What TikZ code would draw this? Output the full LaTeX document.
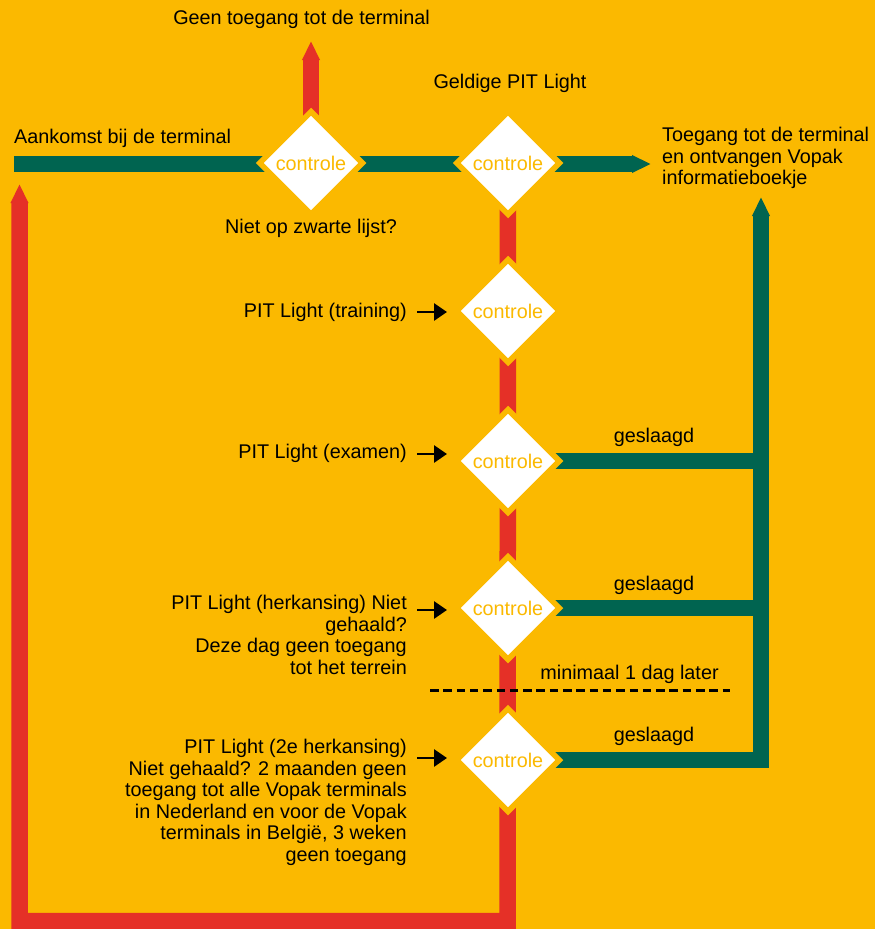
\documentclass[tikz,border=0pt]{standalone}
\usepackage{fontspec}
\setmainfont{Liberation Sans}
\usetikzlibrary{shapes.geometric,arrows.meta,backgrounds}
\definecolor{bgc}{RGB}{251,185,0}
\definecolor{redc}{RGB}{229,48,39}
\definecolor{greenc}{RGB}{0,100,80}
\begin{document}
\begin{tikzpicture}[x=1pt,y=-1pt,
  txt/.style={inner sep=0pt, text=black, font=\fontsize{19.8}{21.6}\selectfont},
  ctrl/.style={diamond, aspect=1, fill=white, draw=bgc, line width=5.5pt,
    minimum width=105pt, minimum height=105pt, inner sep=0pt, text=bgc,
    font=\fontsize{19.8}{22}\selectfont},
  redbar/.style={draw=redc, line width=16.5pt},
  greenbar/.style={draw=greenc, line width=16.5pt},
  tipend/.style={-{Triangle[length=19pt,width=16.5pt]}},
  smallarrow/.style={draw=black, line width=2.8pt, -{Triangle[length=13pt,width=17pt]}},
  cutline/.style={draw=black, line width=3pt, dash pattern=on 8.5pt off 4.8pt}
]
\useasboundingbox (0,0) rectangle (875,929);

% decision diamonds
\node[ctrl] (d1) at (311,163) {controle};
\node[ctrl] (d2) at (508,163) {controle};
\node[ctrl] (d3) at (508,311) {controle};
\node[ctrl] (d4) at (508,461) {controle};
\node[ctrl] (d5) at (508,608) {controle};
\node[ctrl] (d6) at (508,760) {controle};

% free ends of the bars
\coordinate (gstart) at (14,164);
\coordinate (gtip) at (651,164);
\coordinate (rtop) at (311,41);
\coordinate (rbot) at (507.5,921);
\coordinate (lbot) at (19.5,921);
\coordinate (ltip) at (19.5,184);
\coordinate (gvtip) at (761,197);

\begin{scope}[on background layer]
  \fill[bgc] (0,0) rectangle (875,929);
  \draw[greenbar, tipend] (gstart) -- (gtip);
  \draw[redbar, tipend] (d1.center) -- (rtop);
  \draw[redbar, tipend] (d2.center) -- (rbot) -- (lbot) -- (ltip);
  \draw[greenbar] (d4.center) -- (d4.center -| gvtip);
  \draw[greenbar] (d5.center) -- (d5.center -| gvtip);
  \draw[greenbar, tipend] (d6.center) -- (d6.center -| gvtip) -- (gvtip);
\end{scope}

% texts
\node[txt, anchor=base] (tgeen) at (301.5,24) {Geen toegang tot de terminal};
\node[txt, anchor=base] (tgeldig) at (510,88) {Geldige PIT Light};
\node[txt, anchor=base west] (taank) at (14,143) {Aankomst bij de terminal};
\node[txt, anchor=base] (tniet) at (311,233) {Niet op zwarte lijst?};
\node[txt, anchor=north west, align=left] (ttoeg) at (662,127)
  {Toegang tot de terminal\\en ontvangen Vopak\\informatieboekje};
\node[txt, anchor=base east] (t3) at (407,317) {PIT Light (training)};
\node[txt, anchor=base east] (t4) at (407,458) {PIT Light (examen)};
\node[txt, anchor=north east, align=right] (t5) at (407,595)
  {PIT Light (herkansing) Niet\\gehaald?\\Deze dag geen toegang\\tot het terrein};
\node[txt, anchor=north east, align=right] (t6) at (407,739)
  {PIT Light (2e herkansing)\\Niet gehaald? 2 maanden geen\\toegang tot alle Vopak terminals\\in Nederland en voor de Vopak\\terminals in België, 3 weken\\geen toegang};
\node[txt, anchor=base] (g4) at (654,442) {geslaagd};
\node[txt, anchor=base] (g5) at (654,590) {geslaagd};
\node[txt, anchor=base] (g6) at (654,741) {geslaagd};
\node[txt, anchor=base] (tmin) at (629.5,679) {minimaal 1 dag later};

% small input arrows
\coordinate (a3s) at (417,312); \coordinate (a3e) at (447,312);
\coordinate (a4s) at (417,454); \coordinate (a4e) at (447,454);
\coordinate (a5s) at (417,610); \coordinate (a5e) at (447,610);
\coordinate (a6s) at (417,758); \coordinate (a6e) at (447,758);
\draw[smallarrow] (a3s) -- (a3e);
\draw[smallarrow] (a4s) -- (a4e);
\draw[smallarrow] (a5s) -- (a5e);
\draw[smallarrow] (a6s) -- (a6e);

% separation line
\coordinate (dashL) at (430,690);
\coordinate (dashR) at (730,690);
\draw[cutline] (dashL) -- (dashR);
\end{tikzpicture}
\end{document}
